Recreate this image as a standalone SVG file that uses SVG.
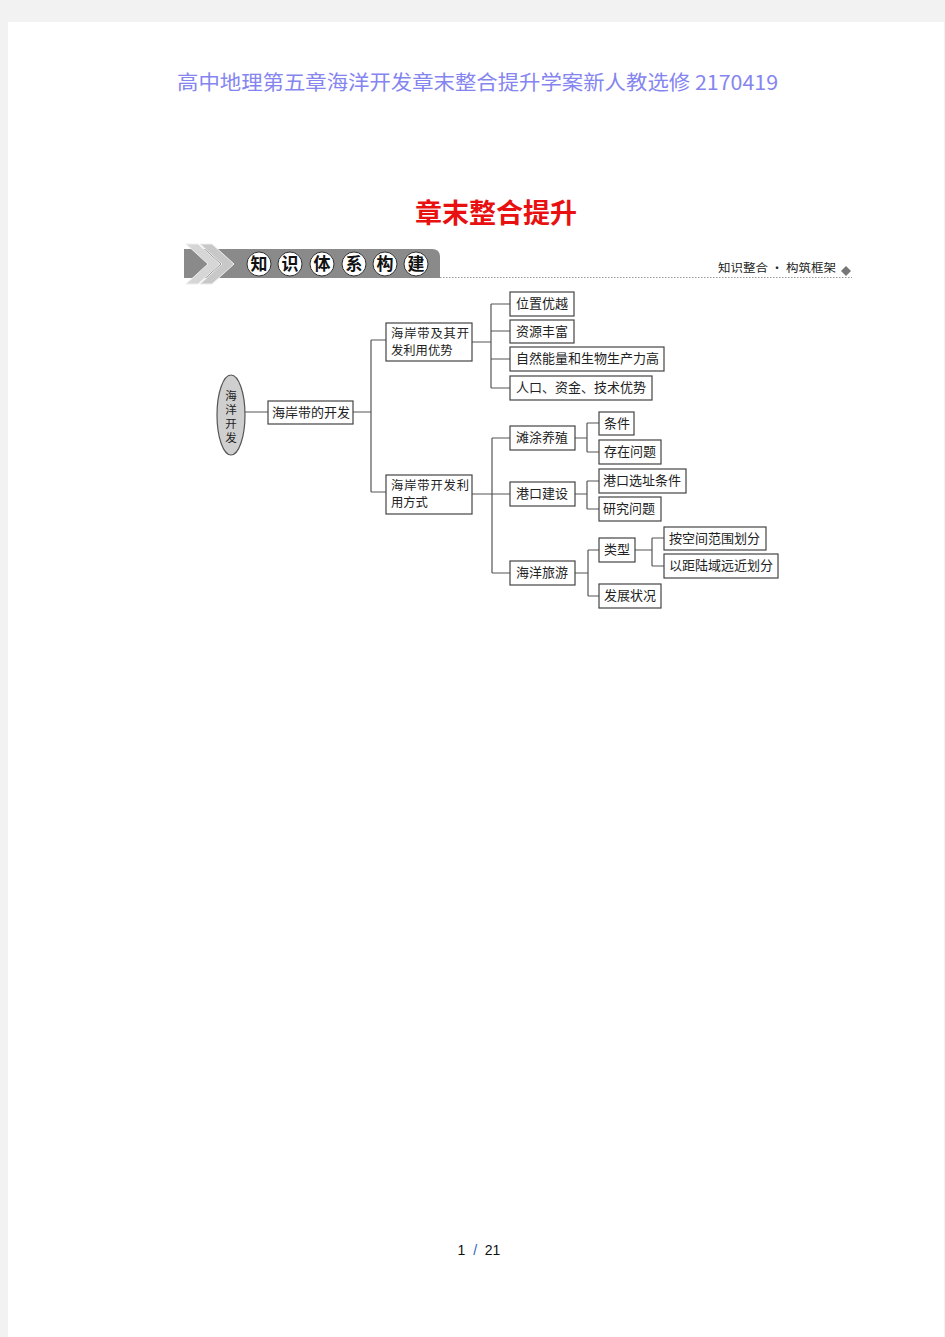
<svg xmlns="http://www.w3.org/2000/svg" width="945" height="1337" viewBox="0 0 945 1337">
<style>
.bx{fill:#fff;stroke:#444;stroke-width:1.2}
.t{font-family:"Noto Sans CJK SC","Noto Sans CJK JP",sans-serif;font-size:13px;fill:#222}
.t2{font-family:"Noto Sans CJK SC","Noto Sans CJK JP",sans-serif;font-size:12.3px;fill:#222}
.v{font-family:"Noto Sans CJK SC","Noto Sans CJK JP",sans-serif;font-size:11.5px;fill:#222;text-anchor:middle}
.ln{fill:none;stroke:#555;stroke-width:1.2}
.cc{fill:#fff;stroke:#333;stroke-width:1}
.ct{font-family:"Noto Sans CJK SC",sans-serif;font-size:17px;font-weight:bold;fill:#111;text-anchor:middle}
</style>
<rect x="0" y="0" width="945" height="1337" fill="#f2f2f2"/>
<rect x="8" y="22" width="936" height="1315" fill="#fff"/>
<text x="177" y="90" font-family="Noto Sans CJK SC,serif" font-size="20" fill="#8585f0" textLength="601" lengthAdjust="spacingAndGlyphs">高中地理第五章海洋开发章末整合提升学案新人教选修 2170419</text>
<text x="496" y="223" font-family="Noto Sans CJK SC,sans-serif" font-size="27" font-weight="bold" fill="#e81010" text-anchor="middle">章末整合提升</text>
<g id="header">
<path d="M184 249 H432 Q440 249 440 257 V278 H184 Z" fill="#8a8a8a"/>
<path d="M200 244 L212 244 L234 264 L212 284 L200 284 L222 264 Z" fill="#c8c8c8" stroke="#eee" stroke-width="1"/>
<path d="M186 244 L198 244 L220 264 L198 284 L186 284 L208 264 Z" fill="#d6d6d6" stroke="#eee" stroke-width="1"/>
<circle class="cc" cx="259" cy="264" r="12"/><text class="ct" x="259" y="270">知</text>
<circle class="cc" cx="290" cy="264" r="12"/><text class="ct" x="290" y="270">识</text>
<circle class="cc" cx="322" cy="264" r="12"/><text class="ct" x="322" y="270">体</text>
<circle class="cc" cx="354" cy="264" r="12"/><text class="ct" x="354" y="270">系</text>
<circle class="cc" cx="385" cy="264" r="12"/><text class="ct" x="385" y="270">构</text>
<circle class="cc" cx="416" cy="264" r="12"/><text class="ct" x="416" y="270">建</text>
<line x1="440" y1="277.5" x2="852" y2="277.5" stroke="#999" stroke-width="1" stroke-dasharray="1.5,1.5"/>
<text x="718" y="272" font-family="Noto Sans CJK SC,sans-serif" font-size="11.5" fill="#222" textLength="118" lengthAdjust="spacingAndGlyphs">知识整合 · 构筑框架</text>
<path d="M846 266 L851 271 L846 276 L841 271 Z" fill="#777"/>
</g>
<g id="connectors">
<path class="ln" d="M245 412 H268 M353 412 H371 M371 340 V492 M371 340 H386 M371 492 H386"/>
<path class="ln" d="M472 342 H491 M491 304 V388 M491 304 H510 M491 331 H510 M491 359 H510 M491 388 H510"/>
<path class="ln" d="M472 494 H492 M492 438 V573 M492 438 H510 M492 494 H510 M492 573 H510"/>
<path class="ln" d="M575 438 H587 M587 423 V452 M587 423 H599 M587 452 H599"/>
<path class="ln" d="M575 494 H587 M587 481 V509 M587 481 H599 M587 509 H599"/>
<path class="ln" d="M575 573 H588 M588 550 V596 M588 550 H599 M588 596 H599"/>
<path class="ln" d="M635 550 H652 M652 538 V566 M652 538 H664 M652 566 H664"/>
</g>
<g id="n-root"><ellipse cx="231" cy="415" rx="14" ry="40" fill="#cfcfcf" stroke="#555" stroke-width="1.2"/>
<text class="v" x="231" y="400">海</text><text class="v" x="231" y="414">洋</text><text class="v" x="231" y="428">开</text><text class="v" x="231" y="442">发</text></g>
<g id="n1"><rect class="bx" x="268" y="401" width="85" height="23"/><text class="t" x="272" y="417">海岸带的开发</text></g>
<g id="n2"><rect class="bx" x="386" y="323" width="86" height="38"/><text class="t2" x="391" y="338" textLength="78" lengthAdjust="spacing">海岸带及其开</text><text class="t2" x="391" y="355">发利用优势</text></g>
<g id="n3"><rect class="bx" x="386" y="475" width="86" height="39"/><text class="t2" x="391" y="490" textLength="78" lengthAdjust="spacing">海岸带开发利</text><text class="t2" x="391" y="507">用方式</text></g>
<g id="n4"><rect class="bx" x="510" y="292" width="64" height="24"/><text class="t" x="516" y="308">位置优越</text></g>
<g id="n5"><rect class="bx" x="510" y="320" width="64" height="23"/><text class="t" x="516" y="336">资源丰富</text></g>
<g id="n6"><rect class="bx" x="510" y="347" width="154" height="24"/><text class="t" x="516" y="363">自然能量和生物生产力高</text></g>
<g id="n7"><rect class="bx" x="510" y="376" width="142" height="24"/><text class="t" x="516" y="392">人口、资金、技术优势</text></g>
<g id="n8"><rect class="bx" x="510" y="426" width="65" height="24"/><text class="t" x="516" y="442">滩涂养殖</text></g>
<g id="n9"><rect class="bx" x="510" y="482" width="65" height="24"/><text class="t" x="516" y="498">港口建设</text></g>
<g id="n10"><rect class="bx" x="510" y="561" width="65" height="24"/><text class="t" x="516" y="577">海洋旅游</text></g>
<g id="n11"><rect class="bx" x="599" y="412" width="35" height="23"/><text class="t" x="604" y="428">条件</text></g>
<g id="n12"><rect class="bx" x="599" y="440" width="62" height="24"/><text class="t" x="604" y="456">存在问题</text></g>
<g id="n13"><rect class="bx" x="599" y="469" width="87" height="24"/><text class="t" x="603" y="485">港口选址条件</text></g>
<g id="n14"><rect class="bx" x="599" y="497" width="62" height="24"/><text class="t" x="603" y="513">研究问题</text></g>
<g id="n15"><rect class="bx" x="599" y="538" width="36" height="24"/><text class="t" x="604" y="554">类型</text></g>
<g id="n16"><rect class="bx" x="599" y="584" width="62" height="24"/><text class="t" x="604" y="600">发展状况</text></g>
<g id="n17"><rect class="bx" x="664" y="527" width="102" height="23"/><text class="t" x="669" y="543">按空间范围划分</text></g>
<g id="n18"><rect class="bx" x="664" y="554" width="114" height="24"/><text class="t" x="669" y="570">以距陆域远近划分</text></g>
<text x="479" y="1255" font-family="Liberation Sans,sans-serif" font-size="14" fill="#111" text-anchor="middle" xml:space="preserve">1  <tspan fill="#3060c0">/</tspan>  21</text>
</svg>
